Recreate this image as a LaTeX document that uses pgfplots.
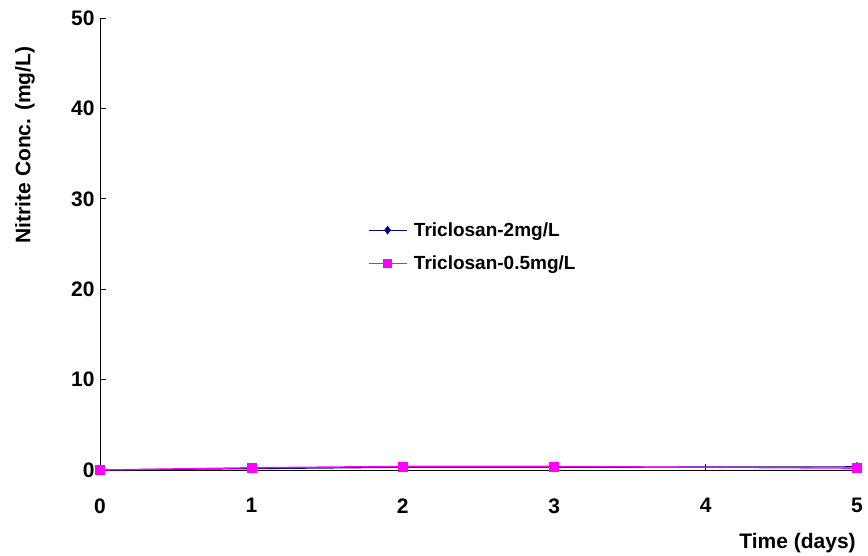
\documentclass[border=0pt]{standalone}
\usepackage{fontspec}
\setmainfont{Liberation Sans}
\usepackage{pgfplots}
\pgfplotsset{compat=1.18}
\definecolor{navyc}{RGB}{0,0,128}
\definecolor{magc}{RGB}{255,0,255}
\begin{document}
\begin{tikzpicture}
\useasboundingbox (-100pt,-86pt) rectangle (768pt,470pt);
\begin{axis}[
  at={(0,0)}, anchor=south west,
  scale only axis, width=757pt, height=452pt,
  xmin=0, xmax=5, ymin=0, ymax=50,
  xtick={0,1,2,3,4,5}, ytick={0,10,20,30,40,50},
  axis x line*=bottom, axis y line*=left,
  axis line style={-, black, line width=0.8pt},
  tick style={black, line width=0.6pt},
  major tick length=6pt,
  tick align=inside,
  /pgf/number format/assume math mode=true,
  tick label style={font=\bfseries\fontsize{21}{24}\selectfont},
  xticklabel style={yshift=-25pt},
  yticklabel style={xshift=-2pt},
  xlabel={Time (days)},
  ylabel={Nitrite Conc. (mg/L)},
  label style={font=\bfseries\fontsize{21}{24}\selectfont},
  xlabel style={at={(axis description cs:1.003,-0.161)}, anchor=east},
  ylabel style={at={(axis description cs:-0.099,0.719)}, anchor=center, rotate=0},
  clip=false,
  legend style={draw=none, fill=none, at={(0.354,0.548)}, anchor=north west,
    font=\bfseries\fontsize{19}{22}\selectfont, row sep=18pt, inner sep=0pt,
    nodes={inner xsep=7pt, inner ysep=0pt}},
  legend cell align=left,
  legend image code/.code={
    \draw[mark repeat=2, mark phase=2, #1, line width=0.8pt, mark size=4pt]
      plot coordinates {(0pt,0pt) (19pt,0pt) (38pt,0pt)};
  },
]
\addplot[color=navyc, line width=1.2pt, mark=diamond*, mark size=4.5pt, mark options={fill=navyc, draw=navyc, line width=0.5pt}]
  coordinates {(0,0.0) (1,0.15) (2,0.3) (3,0.3) (5,0.35)};
\addlegendentry{Triclosan-2mg/L}
\addplot[color=magc, line width=1.3pt, mark=square*, mark size=4.5pt, mark options={fill=magc, draw=magc, line width=0.5pt}]
  coordinates {(0,0.0) (1,0.25) (2,0.4) (3,0.4) (5,0.2)};
\addlegendentry{Triclosan-0.5mg/L}
\end{axis}
\end{tikzpicture}
\end{document}
